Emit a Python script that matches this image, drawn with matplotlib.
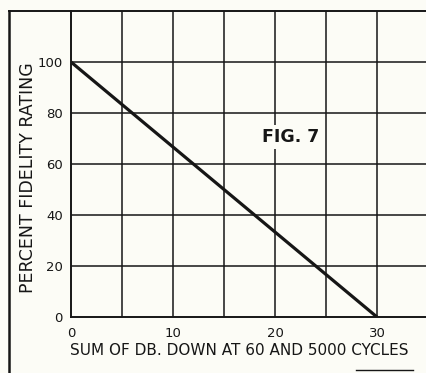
import matplotlib.pyplot as plt
from matplotlib.lines import Line2D

# fidelity rating vs. total db loss at 60 and 5000 cycles
db_down = [0, 30]
fidelity = [100, 0]
x_ticks = [0, 10, 20, 30]
y_ticks = [0, 20, 40, 60, 80, 100]
x_grid = [5, 10, 15, 20, 25, 30]
y_grid = [20, 40, 60, 80, 100]

ink = '#161616'
paper = '#fcfcf6'

fig = plt.figure(figsize=(4.26, 3.73), dpi=100, facecolor=paper)
ax = fig.add_axes([0.1667, 0.150, 0.8333, 0.8205])
ax.set_facecolor(paper)
ax.set_xlim(0, 34.8)
ax.set_ylim(0, 120)

for gx in x_grid:
    ax.axvline(gx, color=ink, lw=1.1)
for gy in y_grid:
    ax.axhline(gy, color=ink, lw=1.1)

ax.plot(db_down, fidelity, color=ink, lw=2.3, solid_capstyle='butt')

for s in ['top', 'right']:
    ax.spines[s].set_visible(False)
for s in ['left', 'bottom']:
    ax.spines[s].set_color(ink)
    ax.spines[s].set_linewidth(1.4)

ax.set_xticks(x_ticks)
ax.set_yticks(y_ticks)
ax.set_xticklabels([str(v) for v in x_ticks])
ax.set_yticklabels([str(v) for v in y_ticks])
ax.tick_params(length=0, labelsize=9.5, colors=ink)
ax.tick_params(axis='x', pad=7)
ax.tick_params(axis='y', pad=6)

ax.set_xlabel('SUM OF DB. DOWN AT 60 AND 5000 CYCLES', fontsize=11, color=ink,
              va='center', ha='center')
ax.xaxis.set_label_coords(0.473, -0.108)
ax.set_ylabel('PERCENT FIDELITY RATING', fontsize=12.5, color=ink,
              va='center', ha='center')
ax.yaxis.set_label_coords(-0.121, 0.454)

ax.text(21.5, 70.6, 'FIG. 7', fontsize=12.5, color=ink, ha='center', va='center',
        fontweight='bold', bbox=dict(facecolor=paper, edgecolor='none', pad=2.5))

# outer frame: top rule and left rule of the page box
fig.add_artist(Line2D([0.021, 1.0], [0.9705, 0.9705], color=ink, lw=1.4))
fig.add_artist(Line2D([0.021, 0.021], [0.0, 0.9705], color=ink, lw=1.8))
fig.add_artist(Line2D([0.835, 0.97], [0.008, 0.008], color=ink, lw=1.0))

fig.savefig('out.png', dpi=100, facecolor=paper)
